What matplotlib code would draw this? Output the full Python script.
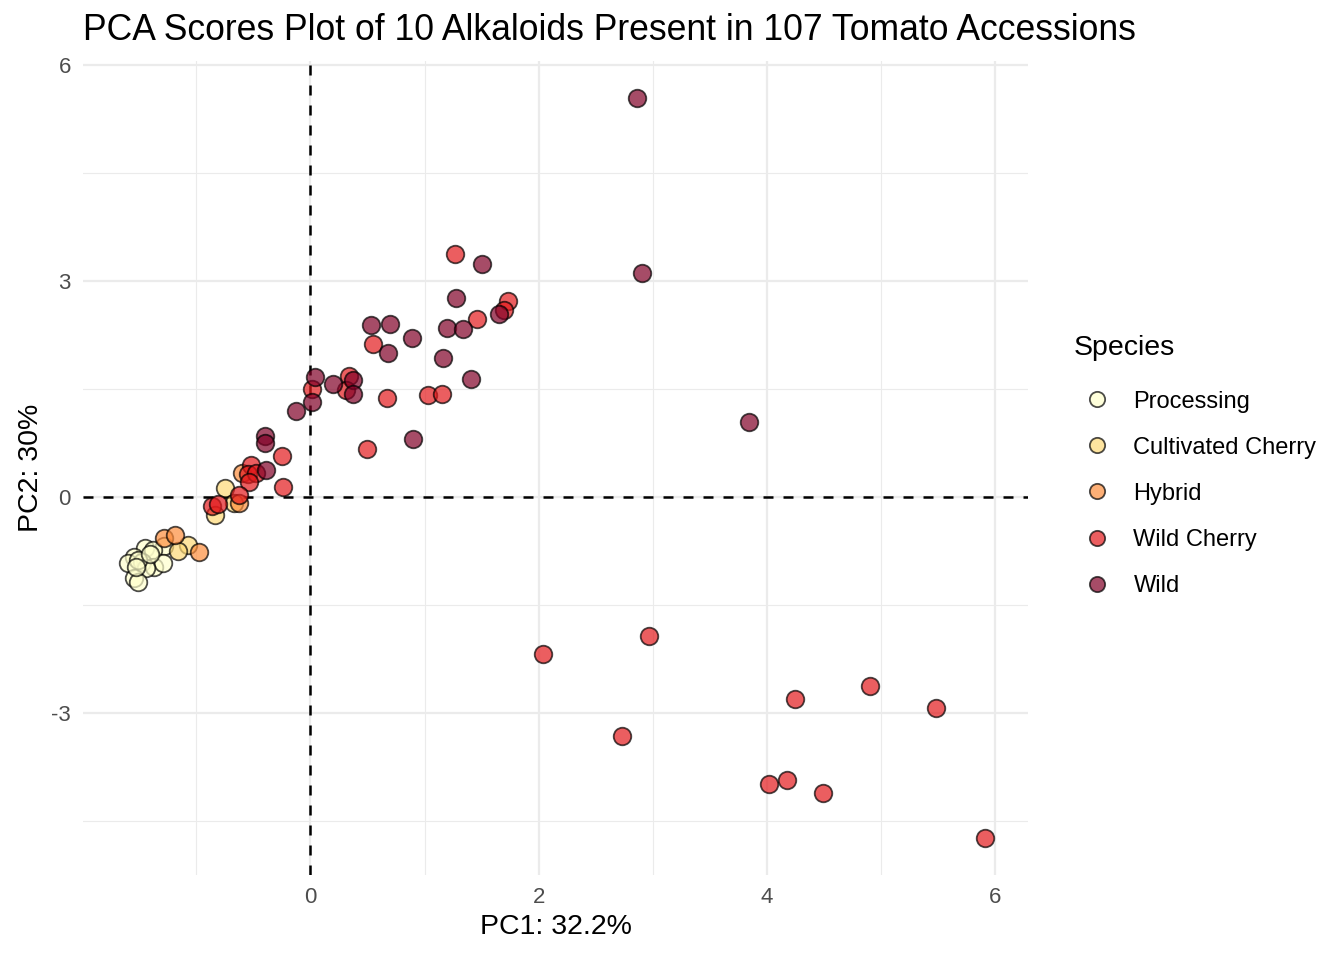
import matplotlib.pyplot as plt
from matplotlib.lines import Line2D
import numpy as np

plt.rcParams['font.family'] = ['Liberation Sans', 'DejaVu Sans']
plt.rcParams['axes.unicode_minus'] = False

species = ["Processing", "Cultivated Cherry", "Hybrid", "Wild Cherry", "Wild"]
colors = ["#FFFFCC", "#FED976", "#FD8D3C", "#E31A1C", "#800026"]

processing_pc1 = [-1.28, -1.45, -1.38, -1.55, -1.60, -1.48, -1.37, -1.29, -1.44,
                  -1.55, -1.51, -1.51, -1.41, -1.53]
processing_pc2 = [-0.69, -0.71, -0.74, -0.83, -0.92, -0.90, -0.97, -0.92, -0.99,
                  -1.13, -1.18, -0.88, -0.80, -0.97]

cherry_pc1 = [-1.07, -1.16, -0.75, -0.67, -0.84]
cherry_pc2 = [-0.67, -0.76, 0.12, -0.09, -0.25]

hybrid_pc1 = [-1.28, -1.19, -0.98, -0.60, -0.63]
hybrid_pc2 = [-0.57, -0.53, -0.77, 0.33, -0.08]

wild_cherry_pc1 = [1.27, 1.73, 1.70, 1.46, 0.55, 1.03, 1.15, 0.67, 0.50, 0.01,
                   0.34, 0.31, -0.25, -0.52, -0.55, -0.48, -0.54, -0.24, -0.63,
                   -0.86, -0.81, 2.04, 2.97, 2.73, 4.25, 4.90, 5.48, 4.02, 4.18,
                   4.49, 5.91]
wild_cherry_pc2 = [3.38, 2.72, 2.60, 2.47, 2.12, 1.42, 1.43, 1.37, 0.66, 1.50,
                   1.68, 1.49, 0.56, 0.44, 0.31, 0.33, 0.21, 0.13, 0.03,
                   -0.13, -0.10, -2.19, -1.93, -3.32, -2.81, -2.63, -2.93, -3.99, -3.94,
                   -4.11, -4.74]

wild_pc1 = [1.50, 1.28, 1.65, 1.20, 1.34, 0.53, 0.70, 0.89, 0.68, 1.16, 1.41,
            0.90, 0.04, 0.01, 0.20, 0.37, 0.37, -0.13, -0.40, -0.40, -0.39,
            2.86, 2.91, 3.84]
wild_pc2 = [3.23, 2.76, 2.54, 2.35, 2.33, 2.39, 2.40, 2.20, 2.00, 1.93, 1.63,
            0.80, 1.67, 1.32, 1.57, 1.62, 1.43, 1.19, 0.84, 0.75, 0.37,
            5.54, 3.11, 1.04]

groups = [(processing_pc1, processing_pc2), (cherry_pc1, cherry_pc2),
          (hybrid_pc1, hybrid_pc2), (wild_cherry_pc1, wild_cherry_pc2),
          (wild_pc1, wild_pc2)]

fig = plt.figure(figsize=(13.44, 9.6), dpi=100)
ax = fig.add_axes([0.062, 0.089, 0.703, 0.847])

for (xs, ys), c in zip(groups, colors):
    ax.scatter(xs, ys, s=160, c=c, alpha=0.7, edgecolors="black", linewidths=1.3, zorder=3)

ax.axhline(0, color="black", linestyle=(0, (4, 4)), linewidth=1.8, zorder=2)
ax.axvline(0, color="black", linestyle=(0, (4, 4)), linewidth=1.8, zorder=2)

ax.set_xlim(-1.99, 6.29)
ax.set_ylim(-5.25, 6.05)
ax.set_xticks([0, 2, 4, 6])
ax.set_yticks([-3, 0, 3, 6])
ax.set_xticks([-1, 1, 3, 5], minor=True)
ax.set_yticks([-4.5, -1.5, 1.5, 4.5], minor=True)
ax.grid(True, which="major", color="#EBEBEB", linewidth=1.6, zorder=0)
ax.grid(True, which="minor", color="#EBEBEB", linewidth=0.8, zorder=0)
ax.tick_params(which="both", length=0, labelsize=16, labelcolor="#4D4D4D", pad=9)
for sp in ax.spines.values():
    sp.set_visible(False)

ax.set_xlabel("PC1: 32.2%", fontsize=20.5, labelpad=4)
ax.set_ylabel("PC2: 30%", fontsize=20.5, labelpad=5)
fig.text(0.062, 0.968, "PCA Scores Plot of 10 Alkaloids Present in 107 Tomato Accessions",
         fontsize=25.6, va="center", ha="left")

handles = [Line2D([], [], marker="o", linestyle="", markersize=11,
                  markerfacecolor=c, markeredgecolor="black", alpha=0.7,
                  markeredgewidth=1.3)
           for c in colors]
leg = fig.legend(handles, species, title="Species", loc="upper left",
                 bbox_to_anchor=(0.7915, 0.661), frameon=False, fontsize=17,
                 title_fontsize=20.5, labelspacing=1.02, handletextpad=0.55,
                 borderaxespad=0)
leg._legend_box.align = "left"
leg._legend_box.sep += 4

fig.savefig("out.png", dpi=100)
